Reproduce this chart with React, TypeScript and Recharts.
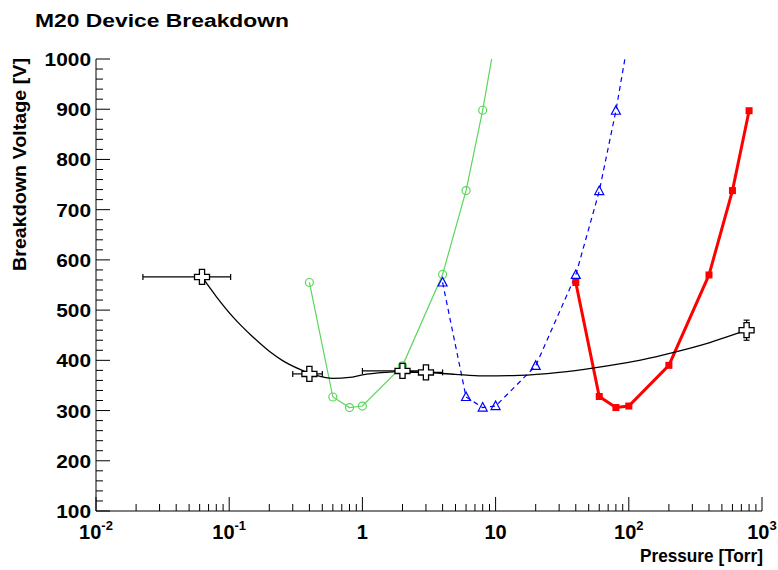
import React from "react";
import { ComposedChart, Line, Scatter, XAxis, YAxis, ErrorBar } from "recharts";

// ---- data ----
const greenP = [0.4, 0.6, 0.8, 1, 2, 4, 6, 8, 10];
const greenV = [555, 327, 306, 309, 389, 571, 738, 898, 1045];
const blueP = [4, 6, 8, 10, 20, 40, 60, 80, 100];
const blueV = [555, 327, 306, 309, 389, 570, 737, 897, 1045];
const redP = [40, 60, 80, 100, 200, 400, 600, 800];
const redV = [555, 328, 306, 309, 390, 570, 738, 897];

const measP = [0.0625, 0.4, 2, 3, 766];
const measV = [566, 373, 379, 376, 460];
const measPLo = [0.04, 0.1, 1, 1, 0];
const measPHi = [0.04, 0.1, 1, 1, 0];
const measVErr = [0, 0, 0, 0, 20];

const fitP = [0.0625, 0.08, 0.107, 0.15, 0.2, 0.25, 0.34, 0.45, 0.6, 0.8, 1, 1.5, 2, 3, 5, 8, 15, 30, 55, 85, 130, 210, 400, 766];
const fitV = [566, 527, 486, 447, 418, 400, 382, 370, 364, 366, 371, 376, 378, 376, 372, 369, 370, 376, 385, 393, 402, 415, 435, 460];

const xMajor = [0.01, 0.1, 1, 10, 100, 1000];
const xMinorMult = [2, 3, 4, 5, 6, 7, 8, 9];
const yMajor = [100, 200, 300, 400, 500, 600, 700, 800, 900, 1000];

// ---- derived tables ----
const zip = (ps: number[], vs: number[]) => ps.map((p, i) => ({ p, v: vs[i] }));
const greenData = zip(greenP, greenV);
const blueData = zip(blueP, blueV);
const redData = zip(redP, redV);
const fitData = zip(fitP, fitV);
const measXData = measP
  .map((p, i) => ({ p, v: measV[i], ex: [measPLo[i], measPHi[i]] }))
  .filter((d, i) => measPLo[i] > 0);
const measYData = measP
  .map((p, i) => ({ p, v: measV[i], ey: measVErr[i] }))
  .filter((d, i) => measVErr[i] > 0);

const xTicks: number[] = [];
xMajor.forEach((m, i) => {
  xTicks.push(m);
  if (i < xMajor.length - 1) xMinorMult.forEach((k) => xTicks.push(+(m * k).toPrecision(6)));
});
const yTicks: number[] = [];
for (let v = 100; v <= 1000; v += 20) yTicks.push(v);

const FONT = "'Liberation Sans', Arial, Helvetica, sans-serif";
const GREEN = "#5cd65c";
const BLUE = "#0000ff";
const RED = "#ff0000";

const XTick = (props: any) => {
  const { x, y, payload } = props;
  const v = payload.value;
  const e = Math.round(Math.log10(v));
  const major = Math.abs(Math.log10(v) - e) < 1e-6;
  const len = major ? 14 : 7;
  return (
    <g>
      <line x1={x} y1={y} x2={x} y2={y - len} stroke="#000" strokeWidth={1} />
      {major && (
        <text x={x} y={y + 28} textAnchor="middle" fontFamily={FONT} fontWeight="bold" fontSize={20} fill="#000">
          {e === 0 ? "1" : "10"}
          {e !== 0 && e !== 1 && (
            <tspan fontSize={13} dy={-9}>
              {String(e)}
            </tspan>
          )}
        </text>
      )}
    </g>
  );
};

const YTick = (props: any) => {
  const { x, y, payload } = props;
  const v = payload.value;
  const major = yMajor.includes(v);
  const len = major ? 14 : 7;
  const label = String(v);
  return (
    <g>
      <line x1={x} y1={y} x2={x + len} y2={y} stroke="#000" strokeWidth={1} />
      {major && (
        <text
          x={x - 5}
          y={y + 7}
          textAnchor="end"
          fontFamily={FONT}
          fontWeight="bold"
          fontSize={19}
          fill="#000"
          textLength={label.length * 11.6}
          lengthAdjust="spacingAndGlyphs"
        >
          {label}
        </text>
      )}
    </g>
  );
};

const circleDot = (props: any) => {
  const { cx, cy, key } = props;
  if (cx == null || cy == null) return <g key={key} />;
  return <circle key={key} cx={cx} cy={cy} r={4} fill="none" stroke={GREEN} strokeWidth={1.2} />;
};
const triDot = (props: any) => {
  const { cx, cy, key } = props;
  if (cx == null || cy == null) return <g key={key} />;
  const d = `M${cx},${cy - 5} L${cx + 4.5},${cy + 3.5} L${cx - 4.5},${cy + 3.5} Z`;
  return <path key={key} d={d} fill="none" stroke={BLUE} strokeWidth={1.2} />;
};
const squareDot = (props: any) => {
  const { cx, cy, key } = props;
  if (cx == null || cy == null) return <g key={key} />;
  return <rect key={key} x={cx - 3.5} y={cy - 3.5} width={7} height={7} fill={RED} />;
};
const crossShape = (props: any) => {
  const { cx, cy } = props;
  const s = 7.5;
  const a = 2.6;
  const d = `M${cx - a},${cy - s} L${cx + a},${cy - s} L${cx + a},${cy - a} L${cx + s},${cy - a} L${cx + s},${cy + a} L${cx + a},${cy + a} L${cx + a},${cy + s} L${cx - a},${cy + s} L${cx - a},${cy + a} L${cx - s},${cy + a} L${cx - s},${cy - a} L${cx - a},${cy - a} Z`;
  return <path d={d} fill="#fff" stroke="#000" strokeWidth={1.3} />;
};

export default function App() {
  return (
    <div style={{ position: "absolute", left: 0, top: 0, width: 778, height: 570, background: "#fff" }}>
      <ComposedChart width={778} height={570} margin={{ top: 59, right: 16, bottom: 58, left: 95 }}>
        <XAxis
          type="number"
          dataKey="p"
          scale="log"
          domain={[0.01, 1000]}
          ticks={xTicks}
          interval={0}
          allowDataOverflow
          height={1}
          tickLine={false}
          tickSize={0}
          tickMargin={0}
          axisLine={{ stroke: "#000", strokeWidth: 1 }}
          tick={<XTick />}
        />
        <YAxis
          type="number"
          dataKey="v"
          domain={[100, 1000]}
          ticks={yTicks}
          interval={0}
          allowDataOverflow
          width={1}
          tickLine={false}
          tickSize={0}
          tickMargin={0}
          axisLine={{ stroke: "#000", strokeWidth: 1 }}
          tick={<YTick />}
        />
        <Line data={greenData} dataKey="v" type="linear" stroke={GREEN} strokeWidth={1.2} dot={circleDot} isAnimationActive={false} />
        <Line data={blueData} dataKey="v" type="linear" stroke={BLUE} strokeWidth={1.2} strokeDasharray="5 4" dot={triDot} isAnimationActive={false} />
        <Line data={redData} dataKey="v" type="linear" stroke={RED} strokeWidth={3} dot={squareDot} isAnimationActive={false} />
        <Line data={fitData} dataKey="v" type="monotone" stroke="#000" strokeWidth={1.3} dot={false} isAnimationActive={false} />
        <Scatter data={measXData} dataKey="v" shape={crossShape} isAnimationActive={false}>
          <ErrorBar dataKey="ex" direction="x" width={3} stroke="#000" strokeWidth={1.2} />
        </Scatter>
        <Scatter data={measYData} dataKey="v" shape={crossShape} isAnimationActive={false}>
          <ErrorBar dataKey="ey" direction="y" width={3} stroke="#000" strokeWidth={1.2} />
        </Scatter>
      </ComposedChart>
      <svg width={778} height={570} style={{ position: "absolute", left: 0, top: 0, pointerEvents: "none" }}>
        <text x={35} y={27} fontFamily={FONT} fontWeight="bold" fontSize={18} fill="#000" textLength={254} lengthAdjust="spacingAndGlyphs">
          M20 Device Breakdown
        </text>
        <text
          x={640}
          y={562}
          fontFamily={FONT}
          fontWeight="bold"
          fontSize={18}
          fill="#000"
          textLength={123}
          lengthAdjust="spacingAndGlyphs"
        >
          Pressure [Torr]
        </text>
        <text
          transform="translate(26,271) rotate(-90)"
          fontFamily={FONT}
          fontWeight="bold"
          fontSize={18}
          fill="#000"
          textLength={213}
          lengthAdjust="spacingAndGlyphs"
        >
          Breakdown Voltage [V]
        </text>
      </svg>
    </div>
  );
}
